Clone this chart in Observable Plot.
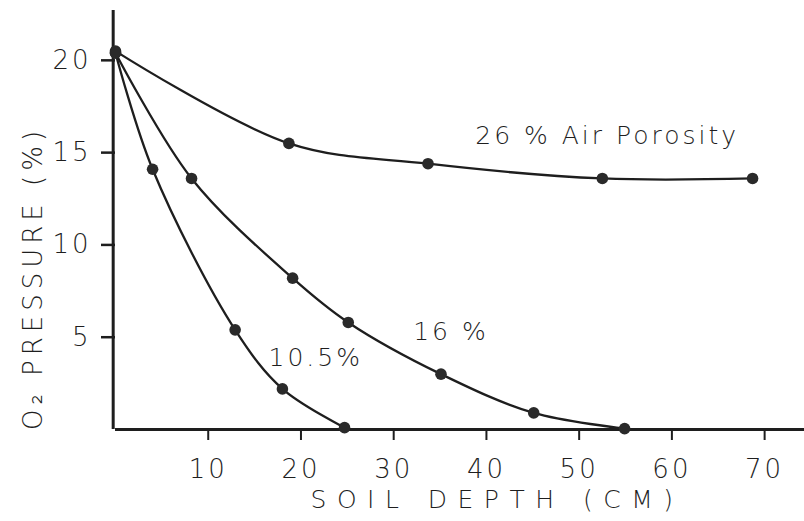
<!DOCTYPE html>
<html>
<head>
<meta charset="utf-8">
<script src="https://cdn.jsdelivr.net/npm/d3@7"></script>
<script src="https://cdn.jsdelivr.net/npm/@observablehq/plot@0.6"></script>
<style>
  html, body { margin: 0; padding: 0; background: #fff; }
  #chart svg { display: block; }
</style>
</head>
<body>
<div id="chart"></div>
<script>
// ---- data ----
const xTicks = [10, 20, 30, 40, 50, 60, 70];
const yTicks = [5, 10, 15, 20];

const depth26 = [0, 18.7, 33.7, 52.5, 68.7];
const o2_26   = [20.5, 15.5, 14.4, 13.6, 13.6];

const depth16 = [0, 8.2, 19.1, 25.1, 35.1, 45.1, 54.9];
const o2_16   = [20.4, 13.6, 8.2, 5.8, 3.0, 0.9, 0.05];

const depth105 = [0, 4.0, 12.9, 18.0, 24.7];
const o2_105   = [20.4, 14.1, 5.4, 2.2, 0.1];

const seriesNames = ["26 % Air Porosity", "16 %", "10.5%"];
const labelX = [38.8, 32.1, 16.5];
const labelY = [15.9, 5.3, 3.9];

const xLabel = "SOIL DEPTH (CM)";
const yLabel = "O\u2082 PRESSURE (%)";

// ---- build tables ----
function table(name, xs, ys) { return xs.map((x, i) => ({series: name, depth: x, o2: ys[i]})); }
const data = [
  ...table(seriesNames[0], depth26, o2_26),
  ...table(seriesNames[1], depth16, o2_16),
  ...table(seriesNames[2], depth105, o2_105)
];
const labels = seriesNames.map((s, i) => ({text: s, x: labelX[i], y: labelY[i]}));

const ink = "#1e1e1e";
const font = "DejaVu Sans, Liberation Sans, sans-serif";

const chart = Plot.plot({
  width: 804,
  height: 521,
  marginLeft: 115,
  marginRight: 0,
  marginTop: 10,
  marginBottom: 92,
  style: {fontFamily: font, fontSize: "26px", color: ink, background: "#fff"},
  x: {domain: [0, 74.3]},
  y: {domain: [0, 22.7]},
  marks: [
    Plot.ruleX([-0.25], {stroke: ink, strokeWidth: 3}),
    Plot.ruleY([0], {stroke: ink, strokeWidth: 3}),
    Plot.axisX(xTicks, {tickSize: 11, tickPadding: 19, stroke: ink, strokeWidth: 2, fill: ink, label: null, fontWeight: 200, fontSize: 26}),
    Plot.axisY(yTicks, {tickSize: 14, tickPadding: 10, stroke: ink, strokeWidth: 2.5, fill: ink, label: null, fontWeight: 200, fontSize: 26}),
    Plot.line(data, {x: "depth", y: "o2", z: "series", curve: "catmull-rom", stroke: ink, strokeWidth: 2.3}),
    Plot.dot(data, {x: "depth", y: "o2", r: 5.8, fill: "#2a2a2a", stroke: "none"}),
    Plot.text(labels, {x: "x", y: "y", text: "text", textAnchor: "start", fontSize: 25, fontWeight: 200, fill: ink}),
    Plot.text([xLabel], {frameAnchor: "bottom", textAnchor: "middle", dx: 37, dy: 78, fontSize: 25, fontWeight: 200, fill: ink}),
    Plot.text([yLabel], {frameAnchor: "left", textAnchor: "middle", rotate: -90, dx: -82, dy: 58, fontSize: 26, fontWeight: 200, fill: ink})
  ]
});

d3.select(chart).selectAll("text").attr("letter-spacing", "3px");
d3.select(chart).selectAll("text").filter(function() { return this.textContent === xLabel; }).attr("letter-spacing", "10.5px");
d3.select(chart).selectAll("text").filter(function() { return this.textContent === yLabel; }).attr("letter-spacing", "5px");
document.getElementById("chart").appendChild(chart);
</script>
</body>
</html>
